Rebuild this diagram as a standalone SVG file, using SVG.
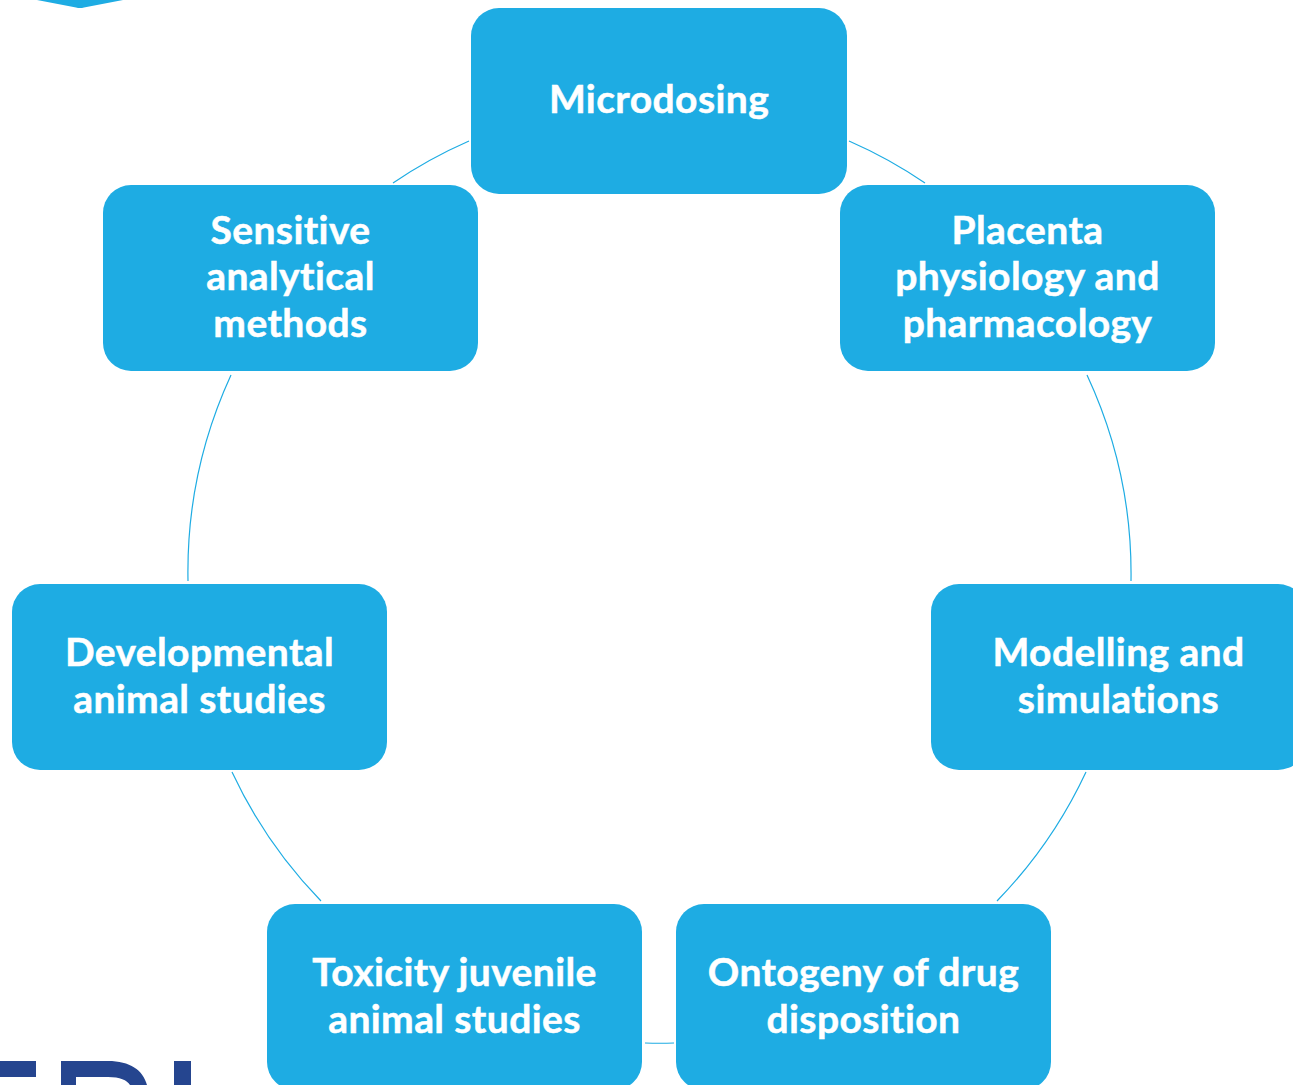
<svg xmlns="http://www.w3.org/2000/svg" width="1293" height="1085" viewBox="0 0 1293 1085">
<style>
.box{fill:#1eace3}
.lbl{font-family:"Lato","Carlito","Liberation Sans",sans-serif;font-weight:700;font-size:39px;letter-spacing:.4px;font-variant-ligatures:none;fill:#fff;stroke:#fff;stroke-width:.5;text-anchor:middle}
.arc{fill:none;stroke:#1eace3;stroke-width:1.2}
.logo{fill:#25458f}
</style>
<rect width="1293" height="1085" fill="#fff"/>
<path class="box" d="M37 0L76 7.500Q80 8.500 84 7.500L123 0Z"/>
<g class="logo">
<rect x="0" y="1061" width="36" height="16"/>
<path d="M61 1085V1061H108C130 1061 143 1070 147 1085H130C127 1080 120 1077 108 1077H76V1085Z"/>
<rect x="174" y="1061" width="17" height="24"/>
</g>
<g id="connectors">
<path class="arc" d="M849 141A471 471 0 0 1 925 183"/>
<path class="arc" d="M1087 375A471 471 0 0 1 1131 581"/>
<path class="arc" d="M1086 772A471 471 0 0 1 997 901"/>
<path class="arc" d="M674 1043Q660 1043.500 645 1043"/>
<path class="arc" d="M321 901A471 471 0 0 1 232 772"/>
<path class="arc" d="M188 581A471 471 0 0 1 231 375"/>
<path class="arc" d="M393 183A471 471 0 0 1 469 141"/>
</g>
<g id="node-microdosing"><rect class="box" x="471" y="8" width="376" height="186" rx="28"/><text class="lbl" x="659" y="113">Microdosing</text></g>
<g id="node-placenta"><rect class="box" x="840" y="185" width="375" height="186" rx="28"/><text class="lbl" x="1027.500" y="244">Placenta</text><text class="lbl" x="1027.500" y="290">physiology and</text><text class="lbl" x="1027.500" y="337">pharmacology</text></g>
<g id="node-modelling"><rect class="box" x="931" y="584" width="375" height="186" rx="28"/><text class="lbl" x="1118.500" y="666">Modelling and</text><text class="lbl" x="1118.500" y="713">simulations</text></g>
<g id="node-ontogeny"><rect class="box" x="676" y="904" width="375" height="186" rx="28"/><text class="lbl" x="863.500" y="986">Ontogeny of drug</text><text class="lbl" x="863.500" y="1033">disposition</text></g>
<g id="node-toxicity"><rect class="box" x="267" y="904" width="375" height="186" rx="28"/><text class="lbl" x="454.500" y="986">Toxicity juvenile</text><text class="lbl" x="454.500" y="1033">animal studies</text></g>
<g id="node-developmental"><rect class="box" x="12" y="584" width="375" height="186" rx="28"/><text class="lbl" x="199.500" y="666">Developmental</text><text class="lbl" x="199.500" y="713">animal studies</text></g>
<g id="node-sensitive"><rect class="box" x="103" y="185" width="375" height="186" rx="28"/><text class="lbl" x="290.500" y="244">Sensitive</text><text class="lbl" x="290.500" y="290">analytical</text><text class="lbl" x="290.500" y="337">methods</text></g>
</svg>
